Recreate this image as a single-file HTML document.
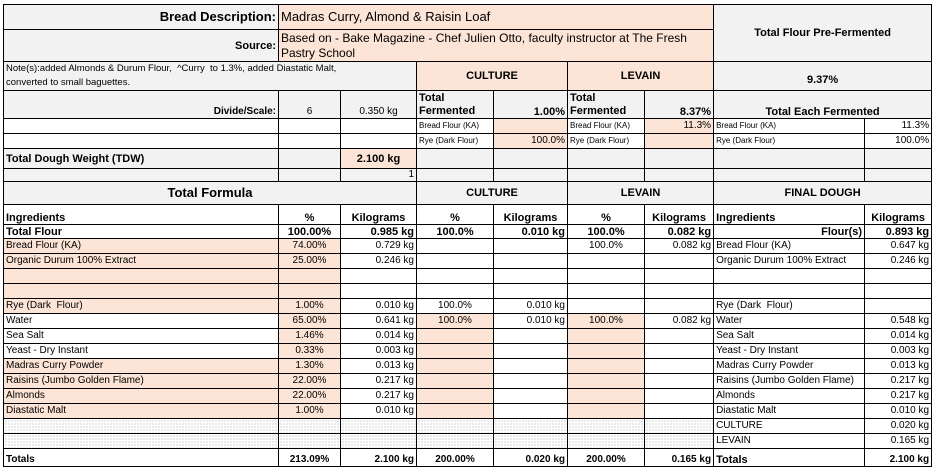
<!DOCTYPE html>
<html><head><meta charset="utf-8"><style>
body{margin:0;background:#fff;width:933px;height:469px;overflow:hidden}
table{position:absolute;left:3px;top:4px;border-collapse:collapse;table-layout:fixed;width:928px;font-family:"Liberation Sans",sans-serif;font-size:10px;color:#000}
td{border:1px solid #000;padding:0 2px;overflow:hidden;white-space:nowrap;line-height:12px;vertical-align:middle}
.g{background:#f2f2f2}.p{background:#fce4d6}.w{background:#fff}
.b{font-weight:bold}.r{text-align:right}.c{text-align:center}
.t{font-size:8px}
.d{background-color:#fff;background-image:radial-gradient(#aaa 0.5px,transparent 0.7px);background-size:3px 3px}
.big{font-size:13px}.h{font-size:11px}
</style></head><body>
<table>
<colgroup><col style="width:275px"><col style="width:62px"><col style="width:76px"><col style="width:77px"><col style="width:74px"><col style="width:77px"><col style="width:69px"><col style="width:151px"><col style="width:67px"></colgroup>
<tr style="height:25px"><td class="g b r big">Bread Description:</td><td class="p big" colspan="6">Madras Curry, Almond &amp; Raisin Loaf</td><td class="g b c h" colspan="2" rowspan="2">Total Flour Pre-Fermented</td></tr>
<tr style="height:32px"><td class="g b r h">Source:</td><td class="p" colspan="6" style="line-height:15px;font-size:12px">Based on - Bake Magazine - Chef Julien Otto, faculty instructor at The Fresh<br>Pastry School</td></tr>
<tr style="height:29px"><td class="g" colspan="3" style="line-height:14px;font-size:9.5px">Note(s):added Almonds &amp; Durum Flour,&nbsp; ^Curry&nbsp; to 1.3%, added Diastatic Malt,<br>converted to small baguettes.</td><td class="p b c h" colspan="2">CULTURE</td><td class="p b c h" colspan="2">LEVAIN</td><td class="g b c h" colspan="2" style="padding-top:8px">9.37%</td></tr>
<tr style="height:28px"><td class="g b r" style="vertical-align:bottom">Divide/Scale:</td><td class="g c" style="vertical-align:bottom">6</td><td class="g c" style="vertical-align:bottom">0.350 kg</td><td class="g b h" style="white-space:normal;line-height:13px">Total Fermented</td><td class="g b r h" style="vertical-align:bottom">1.00%</td><td class="g b h" style="white-space:normal;line-height:13px">Total Fermented</td><td class="g b r h" style="vertical-align:bottom">8.37%</td><td class="g b c h" colspan="2" style="vertical-align:bottom">Total Each Fermented</td></tr>
<tr style="height:15px"><td class="w"></td><td class="w"></td><td class="w"></td><td class="w t">Bread Flour (KA)</td><td class="p"></td><td class="w t">Bread Flour (KA)</td><td class="p r">11.3%</td><td class="w t">Bread Flour (KA)</td><td class="w r">11.3%</td></tr>
<tr style="height:15px"><td class="w"></td><td class="w"></td><td class="w"></td><td class="w t">Rye (Dark Flour)</td><td class="p r">100.0%</td><td class="w t">Rye (Dark Flour)</td><td class="p"></td><td class="w t">Rye (Dark Flour)</td><td class="w r">100.0%</td></tr>
<tr style="height:20px"><td class="g b h">Total Dough Weight (TDW)</td><td class="g"></td><td class="p b c h">2.100 kg</td><td class="g"></td><td class="g"></td><td class="g"></td><td class="g"></td><td class="g"></td><td class="g"></td></tr>
<tr style="height:12px"><td class="g"></td><td class="g"></td><td class="g r">1</td><td class="g"></td><td class="g"></td><td class="g"></td><td class="g"></td><td class="g"></td><td class="g"></td></tr>
<tr style="height:23px"><td class="g b c big" colspan="3">Total Formula</td><td class="g b c h" colspan="2">CULTURE</td><td class="g b c h" colspan="2">LEVAIN</td><td class="g b c h" colspan="2">FINAL DOUGH</td></tr>
<tr style="height:20px"><td class="w b h" style="vertical-align:bottom">Ingredients</td><td class="w b c h" style="vertical-align:bottom">%</td><td class="w b c h" style="vertical-align:bottom">Kilograms</td><td class="w b c h" style="vertical-align:bottom">%</td><td class="w b c h" style="vertical-align:bottom">Kilograms</td><td class="w b c h" style="vertical-align:bottom">%</td><td class="w b c h" style="vertical-align:bottom">Kilograms</td><td class="w b h" style="vertical-align:bottom">Ingredients</td><td class="w b c h" style="vertical-align:bottom">Kilograms</td></tr>
<tr style="height:14px"><td class="w b h">Total Flour</td><td class="w b c h">100.00%</td><td class="w b r h">0.985 kg</td><td class="w b c h">100.0%</td><td class="w b r h">0.010 kg</td><td class="w b c h">100.0%</td><td class="w b r h">0.082 kg</td><td class="w b r h">Flour(s)</td><td class="w b r h">0.893 kg</td></tr>
<tr style="height:15px"><td class="p">Bread Flour (KA)</td><td class="p c">74.00%</td><td class="w r">0.729 kg</td><td class="w"></td><td class="w"></td><td class="w c">100.0%</td><td class="w r">0.082 kg</td><td class="w">Bread Flour (KA)</td><td class="w r">0.647 kg</td></tr>
<tr style="height:15px"><td class="p">Organic Durum 100% Extract</td><td class="p c">25.00%</td><td class="w r">0.246 kg</td><td class="w"></td><td class="w"></td><td class="w"></td><td class="w"></td><td class="w">Organic Durum 100% Extract</td><td class="w r">0.246 kg</td></tr>
<tr style="height:15px"><td class="p"></td><td class="p"></td><td class="w"></td><td class="w"></td><td class="w"></td><td class="w"></td><td class="w"></td><td class="w"></td><td class="w"></td></tr>
<tr style="height:15px"><td class="p"></td><td class="p"></td><td class="w"></td><td class="w"></td><td class="w"></td><td class="w"></td><td class="w"></td><td class="w"></td><td class="w"></td></tr>
<tr style="height:15px"><td class="p">Rye (Dark&nbsp; Flour)</td><td class="p c">1.00%</td><td class="w r">0.010 kg</td><td class="w c">100.0%</td><td class="w r">0.010 kg</td><td class="w"></td><td class="w"></td><td class="w">Rye (Dark&nbsp; Flour)</td><td class="w"></td></tr>
<tr style="height:15px"><td class="w">Water</td><td class="p c">65.00%</td><td class="w r">0.641 kg</td><td class="p c">100.0%</td><td class="w r">0.010 kg</td><td class="p c">100.0%</td><td class="w r">0.082 kg</td><td class="w">Water</td><td class="w r">0.548 kg</td></tr>
<tr style="height:15px"><td class="w">Sea Salt</td><td class="p c">1.46%</td><td class="w r">0.014 kg</td><td class="p"></td><td class="w"></td><td class="p"></td><td class="w"></td><td class="w">Sea Salt</td><td class="w r">0.014 kg</td></tr>
<tr style="height:15px"><td class="w">Yeast - Dry Instant</td><td class="p c">0.33%</td><td class="w r">0.003 kg</td><td class="p"></td><td class="w"></td><td class="p"></td><td class="w"></td><td class="w">Yeast - Dry Instant</td><td class="w r">0.003 kg</td></tr>
<tr style="height:15px"><td class="p">Madras Curry Powder</td><td class="p c">1.30%</td><td class="w r">0.013 kg</td><td class="p"></td><td class="w"></td><td class="p"></td><td class="w"></td><td class="w">Madras Curry Powder</td><td class="w r">0.013 kg</td></tr>
<tr style="height:15px"><td class="p">Raisins (Jumbo Golden Flame)</td><td class="p c">22.00%</td><td class="w r">0.217 kg</td><td class="p"></td><td class="w"></td><td class="p"></td><td class="w"></td><td class="w">Raisins (Jumbo Golden Flame)</td><td class="w r">0.217 kg</td></tr>
<tr style="height:15px"><td class="p">Almonds</td><td class="p c">22.00%</td><td class="w r">0.217 kg</td><td class="p"></td><td class="w"></td><td class="p"></td><td class="w"></td><td class="w">Almonds</td><td class="w r">0.217 kg</td></tr>
<tr style="height:15px"><td class="p">Diastatic Malt</td><td class="p c">1.00%</td><td class="w r">0.010 kg</td><td class="p"></td><td class="w"></td><td class="p"></td><td class="w"></td><td class="w">Diastatic Malt</td><td class="w r">0.010 kg</td></tr>
<tr style="height:15px"><td class="d"></td><td class="d"></td><td class="d"></td><td class="d"></td><td class="d"></td><td class="d"></td><td class="d"></td><td class="w">CULTURE</td><td class="w r">0.020 kg</td></tr>
<tr style="height:15px"><td class="d"></td><td class="d"></td><td class="d"></td><td class="d"></td><td class="d"></td><td class="d"></td><td class="d"></td><td class="w">LEVAIN</td><td class="w r">0.165 kg</td></tr>
<tr style="height:18px"><td class="w b" style="vertical-align:bottom">Totals</td><td class="w b c" style="vertical-align:bottom">213.09%</td><td class="w b r" style="vertical-align:bottom">2.100 kg</td><td class="w b c" style="vertical-align:bottom">200.00%</td><td class="w b r" style="vertical-align:bottom">0.020 kg</td><td class="w b c" style="vertical-align:bottom">200.00%</td><td class="w b r" style="vertical-align:bottom">0.165 kg</td><td class="w b h" style="vertical-align:bottom">Totals</td><td class="w b r" style="vertical-align:bottom">2.100 kg</td></tr>
</table>
</body></html>
